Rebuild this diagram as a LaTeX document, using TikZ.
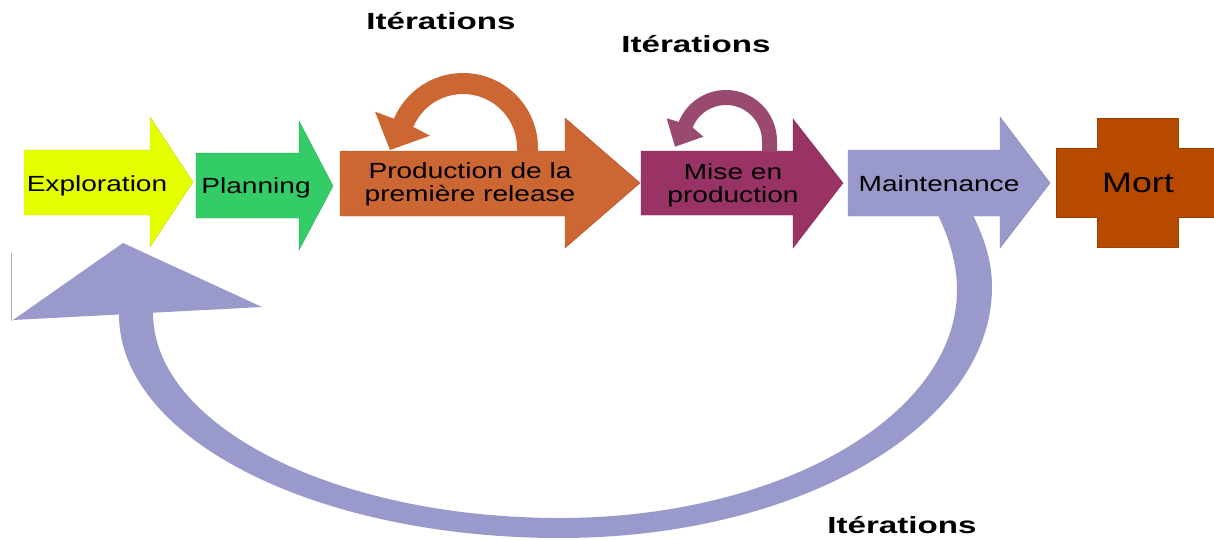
\documentclass[tikz,border=0pt]{standalone}
\usepackage{fontspec}
\setmainfont{Liberation Sans}[FakeStretch=1.28]
\newfontfamily\iterfont{Liberation Sans}[FakeStretch=1.42]
\usetikzlibrary{positioning}
\definecolor{exploc}{HTML}{E6FF00}
\definecolor{planc}{HTML}{33CC66}
\definecolor{prodc}{HTML}{CC6633}
\definecolor{misec}{HTML}{993366}
\definecolor{maintc}{HTML}{9999CC}
\definecolor{mortc}{HTML}{B84A00}
\definecolor{miseloopc}{HTML}{9A4A6E}
\tikzset{
stage/.style={
  draw=#1!85!black,
  line width=0.3pt,
  fill=#1},
loop/.style={fill=#1},
label/.style={
  font=\fontsize{15.6}{16.4}\selectfont,
  align=center,
  inner sep=0pt},
iter/.style={
  font=\iterfont\bfseries\fontsize{16.6}{18}\selectfont,
  inner sep=0pt,
  anchor=base}
}
\begin{document}
\begin{tikzpicture}[x=0.025cm, y=-0.025cm]
    \useasboundingbox (0,0) rectangle (1214,539);
    % stages
    \path [stage=exploc] (24,150) -- (150,150) -- (150,117) -- (193,182) -- (150,247) -- (150,215) -- (24,215) -- cycle;
    \path [stage=planc] (196,153) -- (299,153) -- (299,121) -- (333,186) -- (299,250) -- (299,218) -- (196,218) -- cycle;
    \path [stage=prodc] (340,151) -- (565,151) -- (565,118) -- (640,183) -- (565,248) -- (565,216) -- (340,216) -- cycle;
    \path [stage=misec] (641,151) -- (793,151) -- (793,119) -- (843,183) -- (793,248) -- (793,215) -- (641,215) -- cycle;
    \path [stage=maintc] (848,150) -- (1000,150) -- (1000,117) -- (1050,183) -- (1000,248) -- (1000,216) -- (848,216) -- cycle;
    \path [stage=mortc] (1097,118) -- (1178,118) -- (1178,148) -- (1214,148) -- (1214,217) -- (1178,217) -- (1178,247)
      -- (1097,247) -- (1097,217) -- (1056,217) -- (1056,148) -- (1097,148) -- cycle;
    % loops
    \coordinate (prodloop) at (463,148);
    \coordinate (miseloop) at (726,141);
    \path [loop=prodc] (538,151.5) -- (538,148) arc[start angle=0, end angle=-157, radius=75]
      -- ([shift={(-88,-36.3)}]prodloop) -- ([shift={(-73,2)}]prodloop) -- ([shift={(-33,-12.3)}]prodloop)
      -- ([shift={(-157:54)}]prodloop) arc[start angle=-157, end angle=0, radius=54] -- (517,151.5) -- cycle;
    \path [loop=miseloopc] (777,151.5) -- (777,141) arc[start angle=0, end angle=-158, radius=51]
      -- ([shift={(-59.3,-22.7)}]miseloop) -- ([shift={(-51,5.7)}]miseloop) -- ([shift={(-22.7,-4.3)}]miseloop)
      -- ([shift={(-158:36)}]miseloop) arc[start angle=-158, end angle=0, radius=36] -- (762,151.5) -- cycle;
    \path [loop=maintc] (973,215) .. controls (985,240) and (992,262) .. (992,287)
      .. controls (992,426) and (799,538) .. (560,538)
      .. controls (316,538) and (119,439) .. (119,314.5)
      -- (13,320) -- (123,243) -- (262,307) -- (153,312.7)
      .. controls (153,426) and (335,518) .. (560,518)
      .. controls (779,518) and (957,416) .. (957,290)
      .. controls (957,265) and (950,240) .. (938,215) -- cycle;
    \draw [gray!60, line width=0.4pt] (11,253) -- (11,321);
    % texts
    \node [label, anchor=base] (explo) at (97,191) {Exploration};
    \node [label, anchor=base] (plan) at (256,193) {Planning};
    \node [label] (prod) at (470,184) {Production de la\\première release};
    \node [label] (mise) at (733,185) {Mise en\\production};
    \node [label, anchor=base] (maint) at (939,191) {Maintenance};
    \node [label, font=\fontsize{19.9}{22}\selectfont, anchor=base] (mort) at (1138,192) {Mort};
    \node [iter] (iterprod) at (441,29) {Itérations};
    \node [iter] (itermise) at (696,52) {Itérations};
    \node [iter] (itermaint) at (902,533) {Itérations};
\end{tikzpicture}
\end{document}
